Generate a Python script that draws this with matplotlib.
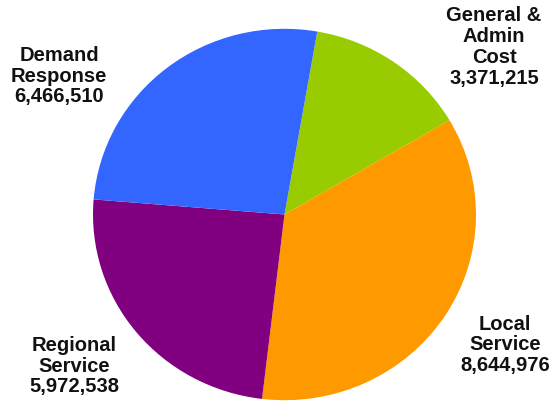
import matplotlib
matplotlib.use("Agg")
import matplotlib.pyplot as plt

# cost breakdown
categories = ["General &\nAdmin\nCost", "Local\nService", "Regional\nService", "Demand\nResponse"]
values = [3371215, 8644976, 5972538, 6466510]
colors = ["#99CC00", "#FF9900", "#800080", "#3366FF"]

W, H = 556, 403
fig = plt.figure(figsize=(W / 100, H / 100), dpi=100)

# pie is slightly wider than tall
cx, cy, rx, ry = 284.5, 214.5, 191.5, 185.7
ax = fig.add_axes([(cx - rx) / W, (H - cy - ry) / H, 2 * rx / W, 2 * ry / H])
ax.pie(values, colors=colors, startangle=80.15, counterclock=False,
       radius=1, wedgeprops=dict(linewidth=0))
ax.set_aspect("auto")
ax.set_xlim(-1, 1)
ax.set_ylim(-1, 1)
ax.axis("off")

# label centres in pixels
label_pos = [(494, 47), (505, 345), (74, 366), (59, 76)]
for name, v, (x, y) in zip(categories, values, label_pos):
    fig.text(x / W, 1 - y / H, f"{name}\n{v:,}", ha="center", va="center",
             fontsize=14.5, fontweight="bold", family="Liberation Sans",
             linespacing=1.12, color="#111111")

fig.savefig("out.png", dpi=100)
